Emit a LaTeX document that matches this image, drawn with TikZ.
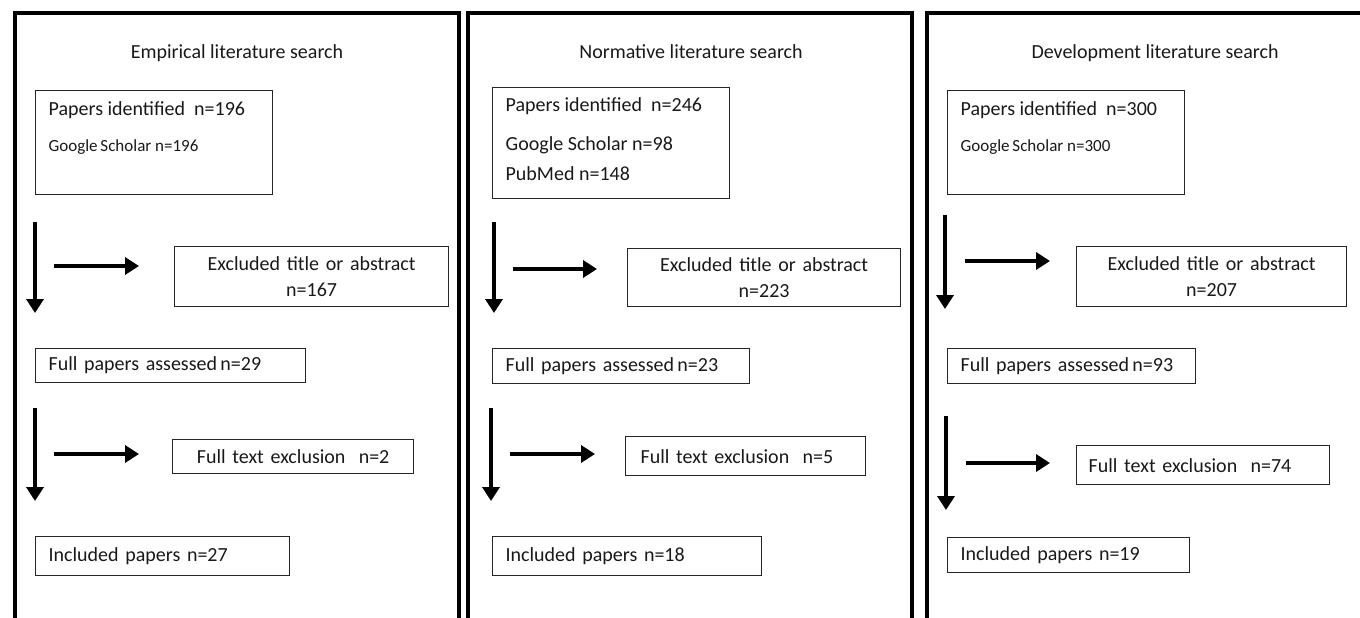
\documentclass[tikz,border=0pt]{standalone}
\usepackage{fontspec}
\setmainfont{Carlito}
\usetikzlibrary{arrows.meta}
\newcommand\txtfont{\fontsize{20}{24}\selectfont}
\newcommand\subfont{\fontsize{17}{21}\selectfont}
\begin{document}
\begin{tikzpicture}[x=1pt,y=-1pt,font=\txtfont,
  frame/.style={line width=3.5pt,line join=miter},
  box/.style={draw=black!85,line width=1.3pt,anchor=north west,inner xsep=13pt,inner ysep=0pt,align=left,text=black!90},
  cbox/.style={box,align=center},
  title/.style={text=black!90},
  arr/.style={line width=4pt,-{Triangle[width=17pt,length=14pt]}}]
\useasboundingbox (0,0) rectangle (1360,618);
% the three panels, open at the bottom
\draw[frame] (15,618) |- (459,13) -- (459,618);
\draw[frame] (468,618) |- (912,13) -- (912,618);
\draw[frame] (927,618) |- (1362,13);
% empirical
\node[title] (emptitle) at (237,53) {Empirical literature search};
\node[box] (empid) at (35,90) {\parbox[t][104pt][t]{211pt}{\rule{0pt}{25pt}Papers identified\ \ n=196\\[12pt]{\subfont Google\,Scholar n=196}}};
\node[cbox,text width=248pt,minimum height=60pt] (empex) at (174,246) {Excluded title or abstract\\[2pt]n=167};
\node[box,text width=244pt,minimum height=34pt] (empfull) at (35,348) {Full papers assessed\,n=29};
\node[cbox,text width=215pt,minimum height=34pt] (empft) at (172,439) {Full text exclusion\ \ n=2};
\node[box,text width=228pt,minimum height=39pt] (empinc) at (35,536) {Included papers n=27};
\coordinate (e1a) at (35,222);\coordinate (e1b) at (35,313);
\coordinate (e2a) at (54,266);\coordinate (e2b) at (139,266);
\coordinate (e3a) at (35,408);\coordinate (e3b) at (35,501);
\coordinate (e4a) at (54,454);\coordinate (e4b) at (139,454);
\draw[arr] (e1a)--(e1b);\draw[arr] (e2a)--(e2b);
\draw[arr] (e3a)--(e3b);\draw[arr] (e4a)--(e4b);
% normative
\node[title] (nortitle) at (691,52) {Normative literature search};
\node[box] (norid) at (492,87) {\parbox[t][111pt][t]{211pt}{\rule{0pt}{24pt}Papers identified\ \ n=246\\[15pt]Google Scholar n=98\\[6pt]PubMed n=148}};
\node[cbox,text width=247pt,minimum height=58pt] (norex) at (627,248) {Excluded title or abstract\\[2pt]n=223};
\node[box,text width=231pt,minimum height=35pt] (norfull) at (492,348) {Full papers assessed\,n=23};
\node[box,inner xsep=15pt,text width=210pt,minimum height=39pt] (norft) at (625,436) {Full text exclusion\ \ n=5};
\node[box,text width=243pt,minimum height=39pt] (norinc) at (492,536) {Included papers n=18};
\coordinate (n1a) at (494,222);\coordinate (n1b) at (494,313);
\coordinate (n2a) at (513,269);\coordinate (n2b) at (597,269);
\coordinate (n3a) at (491,408);\coordinate (n3b) at (491,501);
\coordinate (n4a) at (510,454);\coordinate (n4b) at (595,454);
\draw[arr] (n1a)--(n1b);\draw[arr] (n2a)--(n2b);
\draw[arr] (n3a)--(n3b);\draw[arr] (n4a)--(n4b);
% development
\node[title] (devtitle) at (1155,53) {Development literature search};
\node[box] (devid) at (947,90) {\parbox[t][104pt][t]{211pt}{\rule{0pt}{25pt}Papers identified\ \ n=300\\[12pt]{\subfont Google\,Scholar n=300}}};
\node[cbox,text width=244pt,minimum height=60pt] (devex) at (1076,246) {Excluded title or abstract\\[2pt]n=207};
\node[box,text width=222pt,minimum height=35pt] (devfull) at (947,348) {Full papers assessed\,n=93};
\node[box,inner xsep=12pt,text width=229pt,minimum height=39pt] (devft) at (1076,445) {Full text exclusion\ \ n=74};
\node[box,text width=216pt,minimum height=35pt] (devinc) at (947,537) {Included papers n=19};
\coordinate (d1a) at (945,215);\coordinate (d1b) at (945,309);
\coordinate (d2a) at (965,261);\coordinate (d2b) at (1050,261);
\coordinate (d3a) at (946,416);\coordinate (d3b) at (946,510);
\coordinate (d4a) at (966,463);\coordinate (d4b) at (1050,463);
\draw[arr] (d1a)--(d1b);\draw[arr] (d2a)--(d2b);
\draw[arr] (d3a)--(d3b);\draw[arr] (d4a)--(d4b);
\end{tikzpicture}
\end{document}
